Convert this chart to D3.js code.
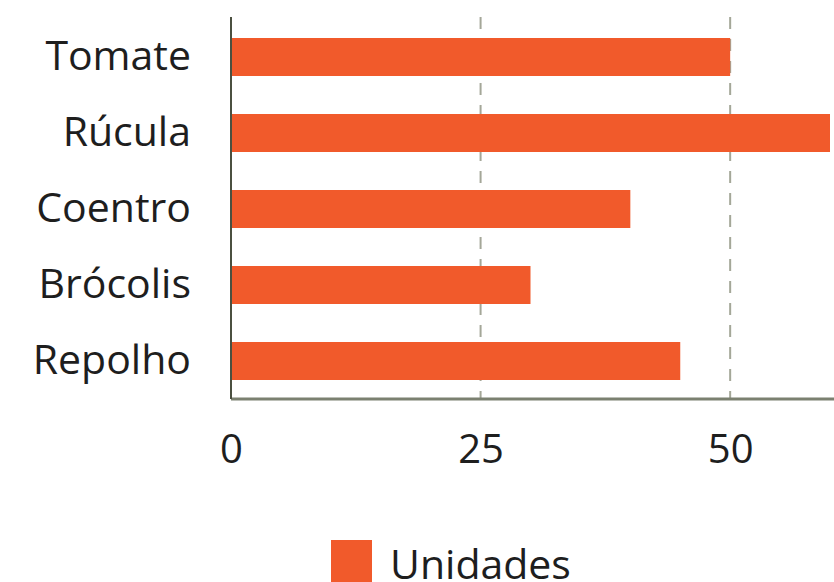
<!DOCTYPE html>
<html>
<head>
<meta charset="utf-8">
<script src="https://cdn.jsdelivr.net/npm/d3@7"></script>
<style>
  body { margin: 0; background: #fff; }
  text { font-family: "Open Sans", sans-serif; fill: #1e1e1e; }
</style>
</head>
<body>
<div id="chart"></div>
<script>
// data
const categories = ["Tomate", "Rúcula", "Coentro", "Brócolis", "Repolho"];
const unidades = [50, 60, 40, 30, 45];
const xTicks = [0, 25, 50];
const seriesName = "Unidades";

const W = 834, H = 582;
const margin = {top: 19, right: 4, bottom: 183, left: 231};

const svg = d3.select("#chart")
  .append("svg")
    .attr("width", W)
    .attr("height", H);

const x = d3.scaleLinear()
  .domain([0, 60])
  .range([margin.left, W - margin.right]);

const y = d3.scaleBand()
  .domain(categories)
  .range([margin.top, H - margin.bottom])
  .paddingInner(0.5)
  .paddingOuter(0.25);

// dashed gridlines
svg.append("g")
  .selectAll("line")
  .data(xTicks.filter(d => d > 0))
  .join("line")
    .attr("x1", d => x(d))
    .attr("x2", d => x(d))
    .attr("y1", margin.top - 2)
    .attr("y2", H - margin.bottom)
    .attr("stroke", "#a4a798")
    .attr("stroke-width", 2)
    .attr("stroke-dasharray", "12,10");

// bars
svg.append("g")
  .selectAll("rect")
  .data(categories)
  .join("rect")
    .attr("x", x(0))
    .attr("y", d => y(d))
    .attr("width", (d, i) => x(unidades[i]) - x(0))
    .attr("height", y.bandwidth())
    .attr("fill", "#f15a2b");

// x axis (line runs to the right edge, as in the original)
const xAxis = svg.append("g")
  .attr("transform", "translate(0," + (H - margin.bottom) + ")")
  .call(d3.axisBottom(x).tickValues(xTicks).tickSize(0).tickPadding(36));
xAxis.select(".domain").attr("stroke", "#7b8070").attr("stroke-width", 3)
  .attr("d", "M" + margin.left + ",0H" + W);
xAxis.selectAll("text").style("font-size", "40px").attr("fill", "#1e1e1e");

// y axis
const yAxis = svg.append("g")
  .attr("transform", "translate(" + margin.left + ",0)")
  .call(d3.axisLeft(y).tickSize(0).tickPadding(40));
yAxis.select(".domain").attr("stroke", "#4b5040").attr("stroke-width", 2)
  .attr("d", "M0," + (margin.top - 2) + "V" + (H - margin.bottom));
yAxis.selectAll("text").style("font-size", "41px").attr("fill", "#1e1e1e");

// legend
const legend = svg.append("g");
legend.append("rect")
  .attr("x", 331)
  .attr("y", 540)
  .attr("width", 41)
  .attr("height", 42)
  .attr("fill", "#f15a2b");
legend.append("text")
  .attr("x", 390)
  .attr("y", 579)
  .style("font-size", "41px")
  .text(seriesName);
</script>
</body>
</html>
